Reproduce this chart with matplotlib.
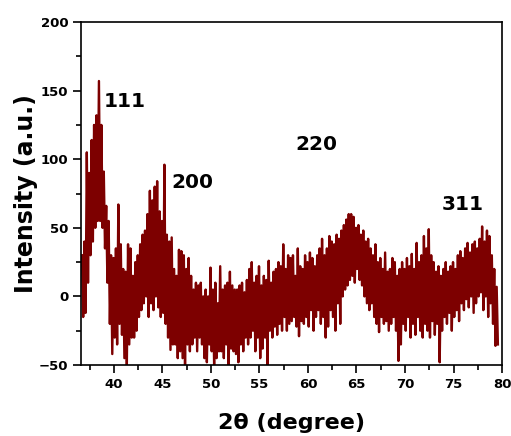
import matplotlib
matplotlib.use("Agg")
import matplotlib.pyplot as plt
from matplotlib.ticker import MultipleLocator

# XRD pattern: upper / lower envelope of the noisy trace, every 0.25 deg
two_theta_start = 36.7
two_theta_step = 0.25
upper = [30, 40, 105, 90, 114, 125, 132, 157, 125, 91, 66, 55, 30, 28,
         35, 67, 38, 20, 18, 38, 35, 15, 25, 30, 38, 45, 48, 60, 77, 70,
         80, 84, 62, 55, 96, 45, 40, 43, 20, 15, 34, 33, 30, 20, 28, 15,
         5, 10, 8, 10, 0, 5, 0, 21, 5, 10, -5, 22, 5, 8, 10, 18, 8, 5,
         5, 8, 10, 3, 12, 20, 25, 10, 15, 22, 8, 15, 12, 26, 10, 18, 20,
         25, 22, 38, 20, 30,
         28, 30, 15, 35, 22, 20, 30, 25, 32, 28, 22, 30, 35, 42, 30, 35,
         44, 40, 38, 45, 42, 48, 52, 56, 60, 60, 58, 50, 52, 45, 48, 40,
         42, 35, 30, 38, 25, 28, 20, 32, 18, 20, 28, 25, 15,
         20, 25, 20, 28, 22, 31, 20, 39, 25, 30, 44, 35, 49, 30, 25, 18,
         22, 15, 20, 25, 18, 22, 25, 20, 30, 33, 28, 35, 39, 32, 38, 40,
         35, 42, 51, 40, 48, 44, 30, 20, 7]
lower = [-15, -12, 10, 30, 40, 50, 55, 55, 50, 35, 10, -20, -42, -30,
         -35, -20, -28, -45, -50, -35, -30, -30, -25, -15, -10, -5, 0,
         -15, -5, -10, 0, -8, -15, -12, -20, -30, -39, -35, -35, -45, -40,
         -45, -50, -35, -40, -35, -30, -40, -30, -35, -45, -48, -35, -40,
         -50, -45, -40, -40, -45, -35, -50, -38, -40, -42, -48, -35, -40,
         -30, -35, -30, -25, -40, -30, -45, -38, -30, -50, -25, -30, -22,
         -28, -20, -25, -15, -25, -20,
         -18, -15, -22, -29, -18, -20, -15, -22, -10, -25, -15, -10, -20,
         -15, -30, -22, -10, -15, -25, -5, -20, 0, 5, 8, 12, 15, 10, 20,
         12, 8, 0, -5, -10, -5, -15, -20, -26, -15, -20, -18, -25, -20,
         -15, -25, -47,
         -35, -20, -25, -15, -30, -20, -28, -15, -25, -30, -20, -25, -30,
         -18, -28, -20, -48, -25, -15, -20, -12, -25, -15, -10, -18, -5,
         -10, -2, -8, 0, -12, -5, 0, 3, -10, 0, -15, -5, -20, -36, -35]

peak_labels = ["111", "200", "220", "311"]
peak_label_x = [38.97, 45.9, 58.7, 73.8]
peak_label_y = [142, 83, 111, 67]

# zigzag between the upper and lower values to get the dense trace
xs, ys = [], []
for i, (hi, lo) in enumerate(zip(upper, lower)):
    x0 = two_theta_start + i * two_theta_step
    xs += [x0, x0 + two_theta_step / 2]
    ys += [hi, lo]

fig = plt.figure(figsize=(5.11, 4.36), dpi=100)
ax = fig.add_axes([0.1585, 0.1628, 0.8239, 0.7867])

ax.plot(xs, ys, color="#7d0000", linewidth=1.7)

ax.set_xlim(36.6, 80)
ax.set_ylim(-50, 200)
ax.xaxis.set_major_locator(MultipleLocator(5))
ax.xaxis.set_minor_locator(MultipleLocator(2.5))
ax.yaxis.set_major_locator(MultipleLocator(50))
ax.yaxis.set_minor_locator(MultipleLocator(25))
ax.tick_params(which="major", direction="out", length=6, width=1.2,
               labelsize=9.5, pad=3)
ax.tick_params(which="minor", direction="out", length=3.5, width=1.2)
for lab in ax.get_xticklabels() + ax.get_yticklabels():
    lab.set_fontweight("bold")
for sp in ax.spines.values():
    sp.set_linewidth(1.2)

for txt, px, py in zip(peak_labels, peak_label_x, peak_label_y):
    ax.text(px, py, txt, fontsize=14.5, fontweight="bold", va="center", ha="left")

ax.set_xlabel("2θ (degree)", fontsize=16, fontweight="bold", labelpad=16)
ax.set_ylabel("Intensity (a.u.)", fontsize=17, fontweight="bold", labelpad=1)

fig.savefig("out.png", dpi=100)
